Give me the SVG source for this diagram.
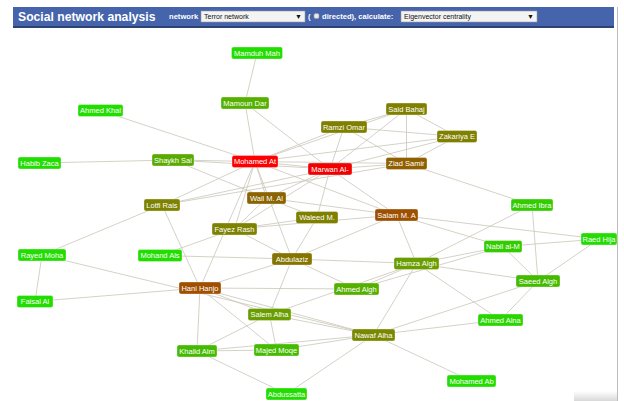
<svg xmlns="http://www.w3.org/2000/svg" width="624" height="401" viewBox="0 0 624 401">
<defs>
<linearGradient id="shadow" x1="0" y1="0" x2="0" y2="1">
<stop offset="0" stop-color="#ffffff"/>
<stop offset="1" stop-color="#d8d8d8"/>
</linearGradient>
</defs>
<style>
.hdr{font-family:"Liberation Sans",Arial,sans-serif;fill:#fff;font-weight:bold}
.sel{fill:#f4f4f4;stroke:#9a9a9a;stroke-width:0.6}
.selt{font-family:"Liberation Sans",Arial,sans-serif;font-size:7px;fill:#111}
.edges line{stroke:#c9c7b8;stroke-width:0.8}
.node rect{stroke:#ffffff;stroke-opacity:0.45;stroke-width:0.7}
.node text{font-family:"Liberation Sans",Arial,sans-serif;font-size:7.5px;fill:#fff;text-anchor:middle}
</style>
<rect width="624" height="401" fill="#fff"/>
<!-- header -->
<rect x="13" y="7" width="601" height="19.5" fill="#4564ab"/>
<rect x="13" y="26" width="601" height="2" fill="#2d4374"/>
<text class="hdr" x="18" y="20.5" font-size="12.2">Social network analysis</text>
<text class="hdr" x="169" y="19.2" font-size="7.6">network</text>
<rect class="sel" x="201" y="11" width="104" height="11"/>
<text class="selt" x="204" y="19">Terror network</text>
<text class="selt" x="295" y="18.5" font-size="5">▼</text>
<text class="hdr" x="308" y="19.2" font-size="7.6">(</text>
<rect x="314" y="13.5" width="5" height="5" rx="1.5" fill="#e8e8e8" stroke="#999" stroke-width="0.5"/>
<text class="hdr" x="322" y="19.2" font-size="7.6">directed), calculate:</text>
<rect class="sel" x="401" y="11" width="136" height="11"/>
<text class="selt" x="404" y="19">Eigenvector centrality</text>
<text class="selt" x="527" y="18.5" font-size="5">▼</text>
<line x1="617.5" y1="7" x2="617.5" y2="401" stroke="#bdbdbd" stroke-width="1"/>
<rect x="574" y="391" width="43" height="10" fill="url(#shadow)"/>
<g id="connectors" class="edges">
<line x1="257" y1="53" x2="245" y2="103"/>
<line x1="245" y1="103" x2="255" y2="161.5"/>
<line x1="245" y1="103" x2="330" y2="169"/>
<line x1="100.5" y1="110.5" x2="255" y2="161.5"/>
<line x1="39.5" y1="163" x2="173" y2="160"/>
<line x1="173" y1="160" x2="255" y2="161.5"/>
<line x1="173" y1="160" x2="330" y2="169"/>
<line x1="173" y1="160" x2="266.5" y2="198"/>
<line x1="255" y1="161.5" x2="330" y2="169"/>
<line x1="255" y1="161.5" x2="406.5" y2="163.5"/>
<line x1="255" y1="161.5" x2="406.5" y2="109"/>
<line x1="255" y1="161.5" x2="344" y2="127"/>
<line x1="255" y1="161.5" x2="457" y2="136.5"/>
<line x1="255" y1="161.5" x2="266.5" y2="198"/>
<line x1="255" y1="161.5" x2="234.5" y2="229"/>
<line x1="255" y1="161.5" x2="292" y2="259"/>
<line x1="255" y1="161.5" x2="200" y2="288"/>
<line x1="255" y1="161.5" x2="162" y2="205"/>
<line x1="255" y1="161.5" x2="396.5" y2="215"/>
<line x1="406.5" y1="109" x2="344" y2="127"/>
<line x1="406.5" y1="109" x2="457" y2="136.5"/>
<line x1="406.5" y1="109" x2="406.5" y2="163.5"/>
<line x1="406.5" y1="109" x2="330" y2="169"/>
<line x1="344" y1="127" x2="457" y2="136.5"/>
<line x1="344" y1="127" x2="406.5" y2="163.5"/>
<line x1="344" y1="127" x2="330" y2="169"/>
<line x1="457" y1="136.5" x2="406.5" y2="163.5"/>
<line x1="457" y1="136.5" x2="330" y2="169"/>
<line x1="406.5" y1="163.5" x2="330" y2="169"/>
<line x1="406.5" y1="163.5" x2="532" y2="205"/>
<line x1="330" y1="169" x2="266.5" y2="198"/>
<line x1="330" y1="169" x2="317" y2="217.5"/>
<line x1="330" y1="169" x2="396.5" y2="215"/>
<line x1="330" y1="169" x2="234.5" y2="229"/>
<line x1="330" y1="169" x2="162" y2="205"/>
<line x1="162" y1="205" x2="406.5" y2="163.5"/>
<line x1="162" y1="205" x2="42" y2="255"/>
<line x1="162" y1="205" x2="200" y2="288"/>
<line x1="266.5" y1="198" x2="317" y2="217.5"/>
<line x1="266.5" y1="198" x2="234.5" y2="229"/>
<line x1="266.5" y1="198" x2="396.5" y2="215"/>
<line x1="234.5" y1="229" x2="317" y2="217.5"/>
<line x1="234.5" y1="229" x2="396.5" y2="215"/>
<line x1="234.5" y1="229" x2="160" y2="255.5"/>
<line x1="234.5" y1="229" x2="292" y2="259"/>
<line x1="317" y1="217.5" x2="292" y2="259"/>
<line x1="160" y1="255.5" x2="292" y2="259"/>
<line x1="292" y1="259" x2="416.5" y2="263.5"/>
<line x1="292" y1="259" x2="200" y2="288"/>
<line x1="292" y1="259" x2="356.5" y2="289"/>
<line x1="292" y1="259" x2="269.5" y2="314.5"/>
<line x1="292" y1="259" x2="396.5" y2="215"/>
<line x1="42" y1="255" x2="373.5" y2="335"/>
<line x1="42" y1="255" x2="35" y2="301.5"/>
<line x1="35" y1="301.5" x2="200" y2="288"/>
<line x1="200" y1="288" x2="356.5" y2="289"/>
<line x1="200" y1="288" x2="269.5" y2="314.5"/>
<line x1="200" y1="288" x2="373.5" y2="335"/>
<line x1="200" y1="288" x2="197" y2="351"/>
<line x1="200" y1="288" x2="276.5" y2="350"/>
<line x1="269.5" y1="314.5" x2="197" y2="351"/>
<line x1="269.5" y1="314.5" x2="276.5" y2="350"/>
<line x1="269.5" y1="314.5" x2="416.5" y2="263.5"/>
<line x1="269.5" y1="314.5" x2="373.5" y2="335"/>
<line x1="197" y1="351" x2="276.5" y2="350"/>
<line x1="197" y1="351" x2="373.5" y2="335"/>
<line x1="197" y1="351" x2="286.5" y2="394"/>
<line x1="276.5" y1="350" x2="373.5" y2="335"/>
<line x1="286.5" y1="394" x2="373.5" y2="335"/>
<line x1="373.5" y1="335" x2="471.5" y2="381"/>
<line x1="373.5" y1="335" x2="500.5" y2="320"/>
<line x1="373.5" y1="335" x2="538" y2="281"/>
<line x1="373.5" y1="335" x2="416.5" y2="263.5"/>
<line x1="356.5" y1="289" x2="416.5" y2="263.5"/>
<line x1="356.5" y1="289" x2="503" y2="246.5"/>
<line x1="416.5" y1="263.5" x2="538" y2="281"/>
<line x1="416.5" y1="263.5" x2="500.5" y2="320"/>
<line x1="416.5" y1="263.5" x2="532" y2="205"/>
<line x1="416.5" y1="263.5" x2="396.5" y2="215"/>
<line x1="416.5" y1="263.5" x2="503" y2="246.5"/>
<line x1="538" y1="281" x2="503" y2="246.5"/>
<line x1="538" y1="281" x2="532" y2="205"/>
<line x1="538" y1="281" x2="599" y2="239"/>
<line x1="538" y1="281" x2="500.5" y2="320"/>
<line x1="503" y1="246.5" x2="599" y2="239"/>
<line x1="503" y1="246.5" x2="396.5" y2="215"/>
<line x1="396.5" y1="215" x2="599" y2="239"/>
</g>
<g id="n-mamduh" class="node"><rect x="231.5" y="47" width="51" height="12" rx="2" fill="#22dd00"/><text x="257" y="55.7">Mamduh Mah</text></g>
<g id="n-mamoun" class="node"><rect x="221" y="97" width="48" height="12" rx="2" fill="#55b000"/><text x="245" y="105.7">Mamoun Dar</text></g>
<g id="n-ahmedkhal" class="node"><rect x="78" y="104.5" width="45" height="12" rx="2" fill="#22dd00"/><text x="100.5" y="113.2">Ahmed Khal</text></g>
<g id="n-habib" class="node"><rect x="18" y="157" width="43" height="12" rx="2" fill="#22dd00"/><text x="39.5" y="165.7">Habib Zaca</text></g>
<g id="n-shaykh" class="node"><rect x="152" y="154" width="42" height="12" rx="2" fill="#5aaa00"/><text x="173" y="162.7">Shaykh Sai</text></g>
<g id="n-mohamedat" class="node"><rect x="232" y="155.5" width="46" height="12" rx="2" fill="#ff0000"/><text x="255" y="164.2">Mohamed At</text></g>
<g id="n-said" class="node"><rect x="386" y="103" width="41" height="12" rx="2" fill="#808000"/><text x="406.5" y="111.7">Said Bahaj</text></g>
<g id="n-ramzi" class="node"><rect x="321" y="121" width="46" height="12" rx="2" fill="#7f8000"/><text x="344" y="129.7">Ramzi Omar</text></g>
<g id="n-zakariya" class="node"><rect x="437" y="130.5" width="40" height="12" rx="2" fill="#808000"/><text x="457" y="139.2">Zakariya E</text></g>
<g id="n-ziad" class="node"><rect x="386" y="157.5" width="41" height="12" rx="2" fill="#905f00"/><text x="406.5" y="166.2">Ziad Samir</text></g>
<g id="n-marwan" class="node"><rect x="308" y="163" width="44" height="12" rx="2" fill="#f00000"/><text x="330" y="171.7">Marwan Al-</text></g>
<g id="n-lotfi" class="node"><rect x="144" y="199" width="36" height="12" rx="2" fill="#7d8200"/><text x="162" y="207.7">Lotfi Rais</text></g>
<g id="n-wail" class="node"><rect x="247" y="192" width="39" height="12" rx="2" fill="#8a6400"/><text x="266.5" y="200.7">Wail M. Al</text></g>
<g id="n-waleed" class="node"><rect x="296" y="211.5" width="42" height="12" rx="2" fill="#808000"/><text x="317" y="220.2">Waleed M.</text></g>
<g id="n-fayez" class="node"><rect x="212" y="223" width="45" height="12" rx="2" fill="#7d8200"/><text x="234.5" y="231.7">Fayez Rash</text></g>
<g id="n-rayed" class="node"><rect x="18" y="249" width="48" height="12" rx="2" fill="#22dd00"/><text x="42" y="257.7">Rayed Moha</text></g>
<g id="n-mohand" class="node"><rect x="138" y="249.5" width="44" height="12" rx="2" fill="#22dd00"/><text x="160" y="258.2">Mohand Als</text></g>
<g id="n-abdulaziz" class="node"><rect x="272" y="253" width="40" height="12" rx="2" fill="#857400"/><text x="292" y="261.7">Abdulaziz</text></g>
<g id="n-hani" class="node"><rect x="179" y="282" width="42" height="12" rx="2" fill="#a04f00"/><text x="200" y="290.7">Hani Hanjo</text></g>
<g id="n-salam" class="node"><rect x="375" y="209" width="43" height="12" rx="2" fill="#9c5000"/><text x="396.5" y="217.7">Salam M. A</text></g>
<g id="n-ahmedibra" class="node"><rect x="511" y="199" width="42" height="12" rx="2" fill="#33cc00"/><text x="532" y="207.7">Ahmed Ibra</text></g>
<g id="n-raed" class="node"><rect x="581" y="233" width="36" height="12" rx="2" fill="#22dd00"/><text x="599" y="241.7">Raed Hija</text></g>
<g id="n-nabil" class="node"><rect x="484" y="240.5" width="38" height="12" rx="2" fill="#33cc00"/><text x="503" y="249.2">Nabil al-M</text></g>
<g id="n-hamza" class="node"><rect x="394" y="257.5" width="45" height="12" rx="2" fill="#6a9e00"/><text x="416.5" y="266.2">Hamza Algh</text></g>
<g id="n-saeed" class="node"><rect x="516" y="275" width="44" height="12" rx="2" fill="#44bb00"/><text x="538" y="283.7">Saeed Algh</text></g>
<g id="n-ahmedalgh" class="node"><rect x="334" y="283" width="45" height="12" rx="2" fill="#55b000"/><text x="356.5" y="291.7">Ahmed Algh</text></g>
<g id="n-faisal" class="node"><rect x="17" y="295.5" width="36" height="12" rx="2" fill="#22dd00"/><text x="35" y="304.2">Faisal Al</text></g>
<g id="n-salem" class="node"><rect x="248" y="308.5" width="43" height="12" rx="2" fill="#6a9e00"/><text x="269.5" y="317.2">Salem Alha</text></g>
<g id="n-khalid" class="node"><rect x="177" y="345" width="40" height="12" rx="2" fill="#44bb00"/><text x="197" y="353.7">Khalid Alm</text></g>
<g id="n-majed" class="node"><rect x="254" y="344" width="45" height="12" rx="2" fill="#44bb00"/><text x="276.5" y="352.7">Majed Moqe</text></g>
<g id="n-abdussatta" class="node"><rect x="266" y="388" width="41" height="12" rx="2" fill="#22dd00"/><text x="286.5" y="396.7">Abdussatta</text></g>
<g id="n-ahmedalna" class="node"><rect x="478" y="314" width="45" height="12" rx="2" fill="#2ad600"/><text x="500.5" y="322.7">Ahmed Alna</text></g>
<g id="n-nawaf" class="node"><rect x="352" y="329" width="43" height="12" rx="2" fill="#7a8800"/><text x="373.5" y="337.7">Nawaf Alha</text></g>
<g id="n-mohamedab" class="node"><rect x="447" y="375" width="49" height="12" rx="2" fill="#22dd00"/><text x="471.5" y="383.7">Mohamed Ab</text></g>
</svg>
